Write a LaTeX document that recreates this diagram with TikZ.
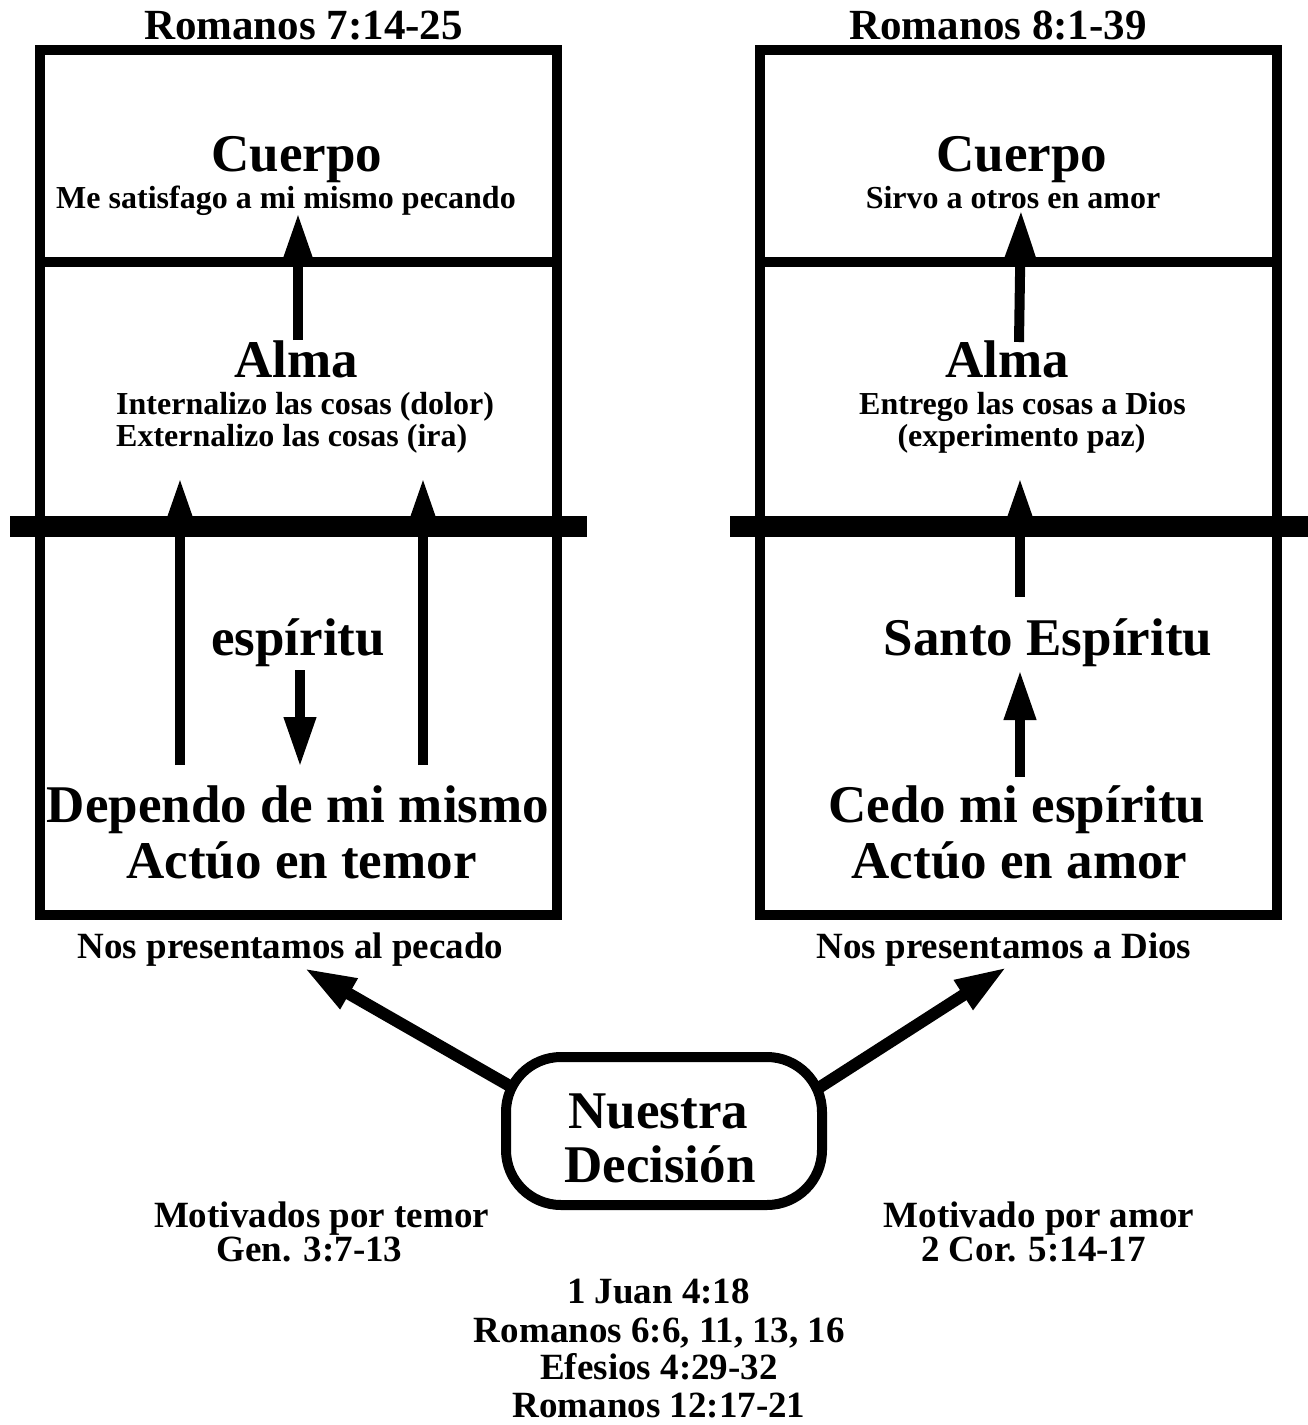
\documentclass[tikz,border=0pt]{standalone}
\usepackage{fontspec}
\setmainfont{Liberation Serif}
\usetikzlibrary{arrows.meta}
\tikzset{
  ttl/.style={font=\fontsize{43}{45}\selectfont\bfseries, inner sep=0pt, anchor=base},
  big/.style={font=\fontsize{53}{55}\selectfont\bfseries, inner sep=0pt, anchor=base},
  mid/.style={font=\fontsize{37}{39}\selectfont\bfseries, inner sep=0pt, anchor=base},
  sml/.style={font=\fontsize{32}{34}\selectfont\bfseries, inner sep=0pt, anchor=base},
  frame/.style={line width=10pt},
  thickbar/.style={line width=21pt},
  arr/.style={line width=10pt, -{Triangle[length=50pt,width=30pt]}},
  diagarr/.style={line width=12pt, -{Triangle[length=52pt,width=32pt]}},
}
\begin{document}
\begin{tikzpicture}[x=1pt,y=-1pt]
\useasboundingbox (0,0) rectangle (1308,1425);
\fill[white] (0,0) rectangle (1308,1425);

% ---------- left column ----------
\node[ttl] (tL) at (303.5,39) {Romanos 7:14-25};
\draw[frame] (40,50) rectangle (557,915);
\draw[frame] (40,262) -- (557,262);
\draw[thickbar] (10,526.5) -- (587,526.5);

\node[big] (cuerpoL) at (297,171) {Cuerpo};
\node[sml] (cuerpoLt) at (286,208) {Me satisfago a mi mismo pecando};
\node[big] (almaL) at (296.5,377) {Alma};
\node[sml, anchor=base west] (almaL1) at (116,414) {Internalizo las cosas (dolor)};
\node[sml, anchor=base west] (almaL2) at (116,446) {Externalizo las cosas (ira)};
\node[big] (espL) at (298,655) {espíritu};
\node[big] (depL1) at (298,822) {Dependo de mi mismo};
\node[big] (depL2) at (301.5,878) {Actúo en temor};
\node[mid] (presL) at (290.5,958) {Nos presentamos al pecado};

\coordinate (la1s) at (298,340);
\coordinate (la1e) at (298,213);
\coordinate (la2s) at (180,765);
\coordinate (la2e) at (180,478);
\coordinate (la3s) at (423,765);
\coordinate (la3e) at (423,478);
\coordinate (lds) at (300,670);
\coordinate (lde) at (300,767);
\draw[arr] (la1s) -- (la1e);
\draw[arr] (la2s) -- (la2e);
\draw[arr] (la3s) -- (la3e);
\draw[arr] (lds) -- (lde);

% ---------- right column ----------
\node[ttl] (tR) at (998,39) {Romanos 8:1-39};
\draw[frame] (760,50) rectangle (1277,915);
\draw[frame] (760,262) -- (1277,262);
\draw[thickbar] (730,526.5) -- (1320,526.5);

\node[big] (cuerpoR) at (1022,171) {Cuerpo};
\node[sml] (cuerpoRt) at (1013,208) {Sirvo a otros en amor};
\node[big] (almaR) at (1007.5,377) {Alma};
\node[sml] (almaR1) at (1022.5,414) {Entrego las cosas a Dios};
\node[sml] (almaR2) at (1021.5,446) {(experimento paz)};
\node[big] (santo) at (1048,655) {Santo Espíritu};
\node[big] (cedo1) at (1017,822) {Cedo mi espíritu};
\node[big] (cedo2) at (1019.5,878) {Actúo en amor};
\node[mid] (presR) at (1004,958) {Nos presentamos a Dios};

\coordinate (ra1s) at (1019,342);
\coordinate (ra1e) at (1021,210);
\coordinate (ra2s) at (1020,597);
\coordinate (ra2e) at (1020,478);
\coordinate (ra3s) at (1020,777);
\coordinate (ra3e) at (1020,670);
\draw[arr] (ra1s) -- (ra1e);
\draw[arr] (ra2s) -- (ra2e);
\draw[arr] (ra3s) -- (ra3e);

% ---------- decision ----------
\coordinate (decL) at (522,1093);
\coordinate (decR) at (803,1098);
\coordinate (tipL) at (304,968);
\coordinate (tipR) at (1007,967);
\draw[diagarr] (decL) -- (tipL);
\draw[diagarr] (decR) -- (tipR);
\node[draw, line width=10pt, rounded corners=55pt, fill=white,
      minimum width=316pt, minimum height=148pt] (dec) at (664,1131) {};
\node[big] (dec1) at (658.5,1128) {Nuestra};
\node[big] (dec2) at (660,1182) {Decisión};

\node[mid] (motL1) at (321.5,1227) {Motivados por temor};
\node[mid] (motL2) at (309.5,1261) {Gen. 3:7-13};
\node[mid] (motR1) at (1039,1227) {Motivado por amor};
\node[mid] (motR2) at (1033.5,1261) {2 Cor. 5:14-17};

\node[mid] (ref1) at (658.5,1303) {1 Juan 4:18};
\node[mid] (ref2) at (659.5,1342) {Romanos 6:6, 11, 13, 16};
\node[mid] (ref3) at (659,1379) {Efesios 4:29-32};
\node[mid] (ref4) at (659,1417) {Romanos 12:17-21};
\end{tikzpicture}
\end{document}
